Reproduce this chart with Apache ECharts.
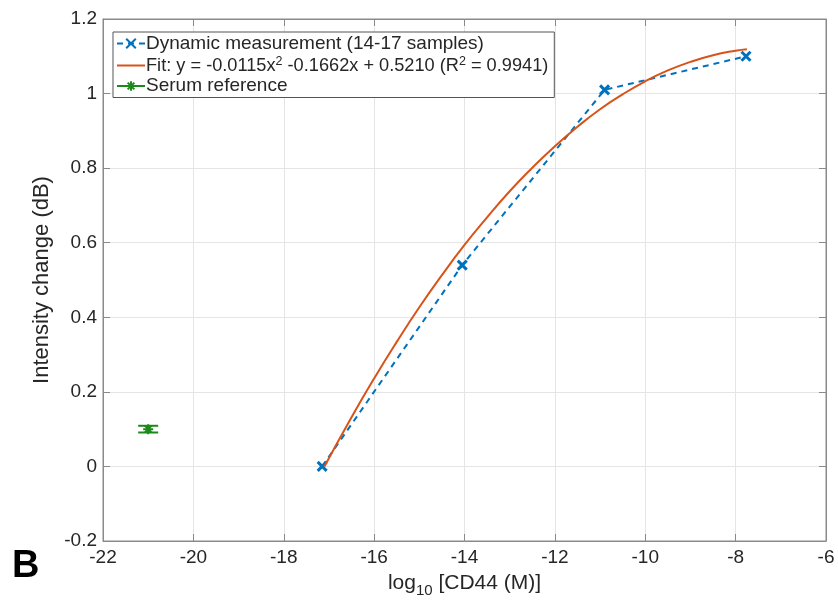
<!DOCTYPE html>
<html><head><meta charset="utf-8">
<script src="https://cdn.jsdelivr.net/npm/echarts@6/dist/echarts.min.js"></script>
<style>html,body{margin:0;padding:0;background:#fff}#c{width:838px;height:603px}</style>
</head><body><div id="c"></div>
<script>
// Data
var measX = [-17.15, -14.05, -10.9, -7.77];
var measY = [0.0, 0.54, 1.01, 1.10];
var fitX = [-17.1, -16.5, -16, -15.5, -15, -14.5, -14, -13.5, -13, -12.5, -12, -11.5, -11, -10.5, -10, -9.5, -9, -8.5, -8, -7.75];
var fitY = [0.000, 0.132, 0.236, 0.334, 0.427, 0.513, 0.594, 0.668, 0.738, 0.801, 0.859, 0.911, 0.958, 0.998, 1.033, 1.062, 1.085, 1.103, 1.115, 1.119];
var serumX = [-21.0];
var serumY = [0.10];
var serumLow = [0.091];
var serumHigh = [0.109];
var xTicks = {min: -22, max: -6, interval: 2};
var yTicks = {min: -0.2, max: 1.2, interval: 0.2};

var BLUE = '#0072BD', ORANGE = '#D95319', GREEN = '#1a8a1a', INK = '#262626', AXIS = '#8a8a8a';
var FONT = 'Liberation Sans, Arial, Helvetica, sans-serif';

function zip(a, b) { return a.map(function (v, i) { return [v, b[i]]; }); }

var chart = echarts.init(document.getElementById('c'), null, {renderer: 'canvas'});
function axisCommon(extra) {
  return Object.assign({
    axisLine: {show: true, onZero: false, lineStyle: {color: AXIS, width: 1}},
    axisTick: {show: true, inside: true, length: 7, lineStyle: {color: AXIS}},
    axisLabel: {color: INK, fontFamily: FONT, fontSize: 19}
  }, extra);
}
var option = {
  animation: false,
  backgroundColor: '#fff',
  grid: {left: 103, right: 12, top: 19, bottom: 59, show: true, borderColor: AXIS, borderWidth: 1, backgroundColor: 'transparent'},
  xAxis: [axisCommon({
    type: 'value', min: xTicks.min, max: xTicks.max, interval: xTicks.interval, position: 'bottom',
    splitLine: {show: true, lineStyle: {color: '#e5e5e5', width: 1}},
    axisLabel: {color: INK, fontFamily: FONT, fontSize: 19, margin: 7},
    name: '{n|log}{s|10}{n| [CD44 (M)]}', nameLocation: 'middle', nameGap: 28,
    nameTextStyle: {rich: {n: {fontFamily: FONT, fontSize: 21, color: INK}, s: {fontFamily: FONT, fontSize: 15, color: INK, verticalAlign: 'bottom', padding: [14, 0, 0, 0]}}}
  }),
  axisCommon({type: 'value', min: xTicks.min, max: xTicks.max, interval: xTicks.interval, position: 'top', splitLine: {show: false}, axisLabel: {show: false}})],
  yAxis: [axisCommon({
    type: 'value', min: yTicks.min, max: yTicks.max, interval: yTicks.interval, position: 'left',
    splitLine: {show: true, lineStyle: {color: '#e5e5e5', width: 1}},
    axisLabel: {color: INK, fontFamily: FONT, fontSize: 19, margin: 6},
    name: 'Intensity change (dB)', nameLocation: 'middle', nameGap: 38,
    nameTextStyle: {fontFamily: FONT, fontSize: 22, color: INK}
  }),
  axisCommon({type: 'value', min: yTicks.min, max: yTicks.max, interval: yTicks.interval, position: 'right', splitLine: {show: false}, axisLabel: {show: false}})],
  legend: {
    left: 113, top: 32, orient: 'vertical', itemGap: 2, itemWidth: 28, itemHeight: 12,
    padding: [2, 6, 2, 3],
    backgroundColor: '#fff', borderColor: '#555', borderWidth: 1, borderRadius: 0,
    data: ['Dynamic measurement (14-17 samples)', 'Fit', 'Serum reference'],
    formatter: function (name) {
      if (name === 'Fit') return '{f|Fit: y = -0.0115x}{p|2}{f| -0.1662x + 0.5210 (R}{p|2}{f| = 0.9941)}';
      return '{t|' + name + '}';
    },
    textStyle: {
      color: INK, fontFamily: FONT, fontSize: 19, padding: [0, 0, 0, -4],
      rich: {
        t: {fontFamily: FONT, fontSize: 19, color: INK},
        f: {fontFamily: FONT, fontSize: 18.2, color: INK},
        p: {fontFamily: FONT, fontSize: 12.5, color: INK, verticalAlign: 'top', padding: [0, 0, 8, 0]}
      }
    }
  },
  graphic: [{type: 'text', left: 12, top: 548, style: {text: 'B', font: 'bold 38px ' + FONT, fill: '#000'}}],
  series: [
    {
      name: 'Dynamic measurement (14-17 samples)', type: 'line', data: zip(measX, measY),
      symbol: 'path://M0,0L10,10M10,0L0,10', symbolSize: 9,
      itemStyle: {color: BLUE, borderColor: BLUE, borderWidth: 3},
      lineStyle: {color: BLUE, width: 2, type: [6, 5]}, z: 3
    },
    {
      name: 'Fit', type: 'line', data: zip(fitX, fitY), smooth: true, showSymbol: false,
      symbol: 'path://M0,0L1,1',
      itemStyle: {color: ORANGE}, lineStyle: {color: ORANGE, width: 2}, z: 4
    },
    {
      name: 'Serum reference', type: 'line', data: zip(serumX, serumY),
      symbol: 'path://M5,0L5,10M0,5L10,5M1.5,1.5L8.5,8.5M8.5,1.5L1.5,8.5', symbolSize: 10,
      itemStyle: {color: GREEN, borderColor: GREEN, borderWidth: 2},
      lineStyle: {color: GREEN, width: 2}, z: 5
    },
    {
      name: 'serumErr', type: 'custom', data: serumX.map(function (x, i) { return [x, serumLow[i], serumHigh[i]]; }),
      renderItem: function (params, api) {
        var lo = api.coord([api.value(0), api.value(1)]);
        var hi = api.coord([api.value(0), api.value(2)]);
        var w = 10;
        var st = {stroke: GREEN, lineWidth: 2};
        return {type: 'group', children: [
          {type: 'line', shape: {x1: lo[0], y1: lo[1], x2: hi[0], y2: hi[1]}, style: st},
          {type: 'line', shape: {x1: lo[0] - w, y1: lo[1], x2: lo[0] + w, y2: lo[1]}, style: st},
          {type: 'line', shape: {x1: hi[0] - w, y1: hi[1], x2: hi[0] + w, y2: hi[1]}, style: st}
        ]};
      }, z: 4
    }
  ]
};
chart.setOption(option);
</script></body></html>
